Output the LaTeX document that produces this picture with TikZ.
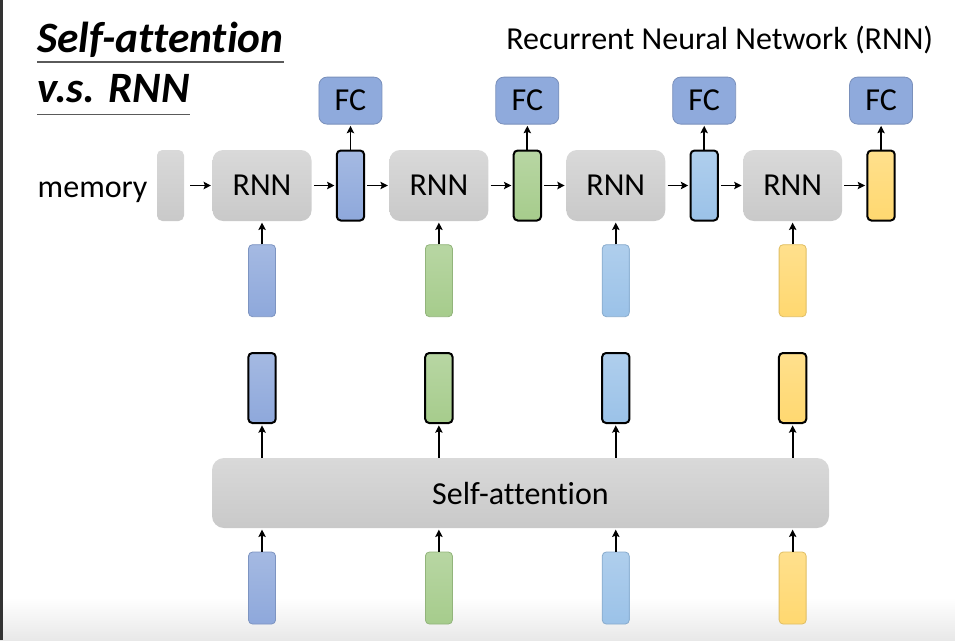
\documentclass[tikz,border=0pt]{standalone}
\usepackage{fontspec}
\setmainfont{Carlito}[Ligatures=NoCommon]
\usetikzlibrary{arrows.meta}
\usetikzlibrary{positioning}
\usetikzlibrary{calc}
\definecolor{graytop}{HTML}{D9D9D9}
\definecolor{graybot}{HTML}{C9C9C9}
\definecolor{vblue}{HTML}{8EA8DB}
\definecolor{vgreen}{HTML}{A6CC8C}
\definecolor{vsky}{HTML}{9BC2E8}
\definecolor{vyellow}{HTML}{FFD870}
\definecolor{fcblue}{HTML}{8FAADC}
\definecolor{rule}{HTML}{5A5A5A}
\tikzset{
	>={Stealth[length=5.5pt, width=5.5pt, inset=1pt]},
	every node/.style={align=center, font=\fontsize{24}{28}\selectfont},
	%
	block/.style={
		rounded corners=8pt, top color=graytop, bottom color=graybot,
		inner sep=0pt, minimum width=74.25pt, minimum height=53.25pt},
	mem/.style={block, minimum width=20.25pt, rounded corners=4pt},
	fc/.style={
		rounded corners=6pt, fill=fcblue, draw=fcblue!85!black, line width=0.6pt,
		inner sep=0pt, minimum width=47.25pt, minimum height=35.25pt},
	vec/.style={rounded corners=3pt, inner sep=0pt},
	in vec/.style={vec, top color=#1!80!white, bottom color=#1,
		draw=#1!88!black, line width=0.6pt,
		minimum width=20.25pt, minimum height=54pt},
	out vec/.style={vec, top color=#1!80!white, bottom color=#1,
		draw=black, line width=1.5pt,
		minimum width=20.5pt, minimum height=52.5pt},
	%
	arrow/.style={->, line width=1.4pt, shorten >=1pt},
	underline/.style={rule, line width=1.3pt},
}

\begin{document}
\begin{tikzpicture}[x=0.75pt, y=-0.75pt]
	\useasboundingbox (0,0) rectangle (955,640);
	\fill [top color=white, bottom color=black!9] (0,598) rectangle (955,640);
	\fill [black!80] (0,0) rectangle (2.5,640);
	%
	\node (title1) [anchor=base west, inner sep=0pt,
		font=\fontsize{32.5}{36}\selectfont\bfseries\itshape] at (37,52) {Self-attention};
	\node (title2) [anchor=base west, inner sep=0pt,
		font=\fontsize{32.5}{36}\selectfont\bfseries\itshape] at (37,102) {v.s. RNN};
	\draw [underline] ($(title1.base west)+(0,10)$) -- ($(title1.base east)+(0,10)$);
	\draw [underline] ($(title2.base west)+(0,12.5)$) -- ($(title2.base east)+(0,12.5)$);
	\node (rnn-title) [anchor=base west, inner sep=0pt] at (506,49.5)
		{Recurrent Neural Network (RNN)};
	%
	\node (memory) [mem] at (170.5,185.5) {};
	\node (mem-label) [anchor=base east, inner sep=0pt]
		at ($(memory.west)+(-9,11.5)$) {memory};
	\node (rnn1) [block, right=21pt of memory] {RNN};
	\node (h1) [out vec=vblue, right=18pt of rnn1] {};
	\node (rnn2) [block, right=18pt of h1] {RNN};
	\node (h2) [out vec=vgreen, right=18pt of rnn2] {};
	\node (rnn3) [block, right=18pt of h2] {RNN};
	\node (h3) [out vec=vsky, right=18pt of rnn3] {};
	\node (rnn4) [block, right=18pt of h3] {RNN};
	\node (h4) [out vec=vyellow, right=18pt of rnn4] {};
	%
	\node (fc1) [fc, above=18.75pt of h1] {FC};
	\node (fc2) [fc, above=18.75pt of h2] {FC};
	\node (fc3) [fc, above=18.75pt of h3] {FC};
	\node (fc4) [fc, above=18.75pt of h4] {FC};
	%
	\node (in1) [in vec=vblue, below=17.25pt of rnn1] {};
	\node (in2) [in vec=vgreen, below=17.25pt of rnn2] {};
	\node (in3) [in vec=vsky, below=17.25pt of rnn3] {};
	\node (in4) [in vec=vyellow, below=17.25pt of rnn4] {};
	%
	\draw [arrow, shorten <=4.5pt] (memory) -- (rnn1);
	\draw [arrow, shorten <=1.5pt] (rnn1) -- (h1);
	\draw [arrow, shorten <=1.5pt] (h1) -- (rnn2);
	\draw [arrow, shorten <=1.5pt] (rnn2) -- (h2);
	\draw [arrow, shorten <=1.5pt] (h2) -- (rnn3);
	\draw [arrow, shorten <=1.5pt] (rnn3) -- (h3);
	\draw [arrow, shorten <=1.5pt] (h3) -- (rnn4);
	\draw [arrow, shorten <=1.5pt] (rnn4) -- (h4);
	\draw [arrow] (h1) -- (fc1);
	\draw [arrow] (h2) -- (fc2);
	\draw [arrow] (h3) -- (fc3);
	\draw [arrow] (h4) -- (fc4);
	\draw [arrow] (in1) -- (rnn1);
	\draw [arrow] (in2) -- (rnn2);
	\draw [arrow] (in3) -- (rnn3);
	\draw [arrow] (in4) -- (rnn4);
	%
	\node (sa) [block, minimum width=462.75pt, minimum height=52.5pt,
		rounded corners=9pt] at (520.5,493) {Self-attention};
	\coordinate (out-row) at (0,388);
	\coordinate (in-row) at (0,588);
	\node (sa-h1) [out vec=vblue] at (rnn1 |- out-row) {};
	\node (sa-h2) [out vec=vgreen] at (rnn2 |- out-row) {};
	\node (sa-h3) [out vec=vsky] at (rnn3 |- out-row) {};
	\node (sa-h4) [out vec=vyellow] at (rnn4 |- out-row) {};
	\node (sa-in1) [in vec=vblue] at (rnn1 |- in-row) {};
	\node (sa-in2) [in vec=vgreen] at (rnn2 |- in-row) {};
	\node (sa-in3) [in vec=vsky] at (rnn3 |- in-row) {};
	\node (sa-in4) [in vec=vyellow] at (rnn4 |- in-row) {};
	%
	\draw [arrow] (sa.north -| sa-h1) -- (sa-h1);
	\draw [arrow] (sa.north -| sa-h2) -- (sa-h2);
	\draw [arrow] (sa.north -| sa-h3) -- (sa-h3);
	\draw [arrow] (sa.north -| sa-h4) -- (sa-h4);
	\draw [arrow] (sa-in1) -- (sa-in1 |- sa.south);
	\draw [arrow] (sa-in2) -- (sa-in2 |- sa.south);
	\draw [arrow] (sa-in3) -- (sa-in3 |- sa.south);
	\draw [arrow] (sa-in4) -- (sa-in4 |- sa.south);
\end{tikzpicture}
\end{document}
